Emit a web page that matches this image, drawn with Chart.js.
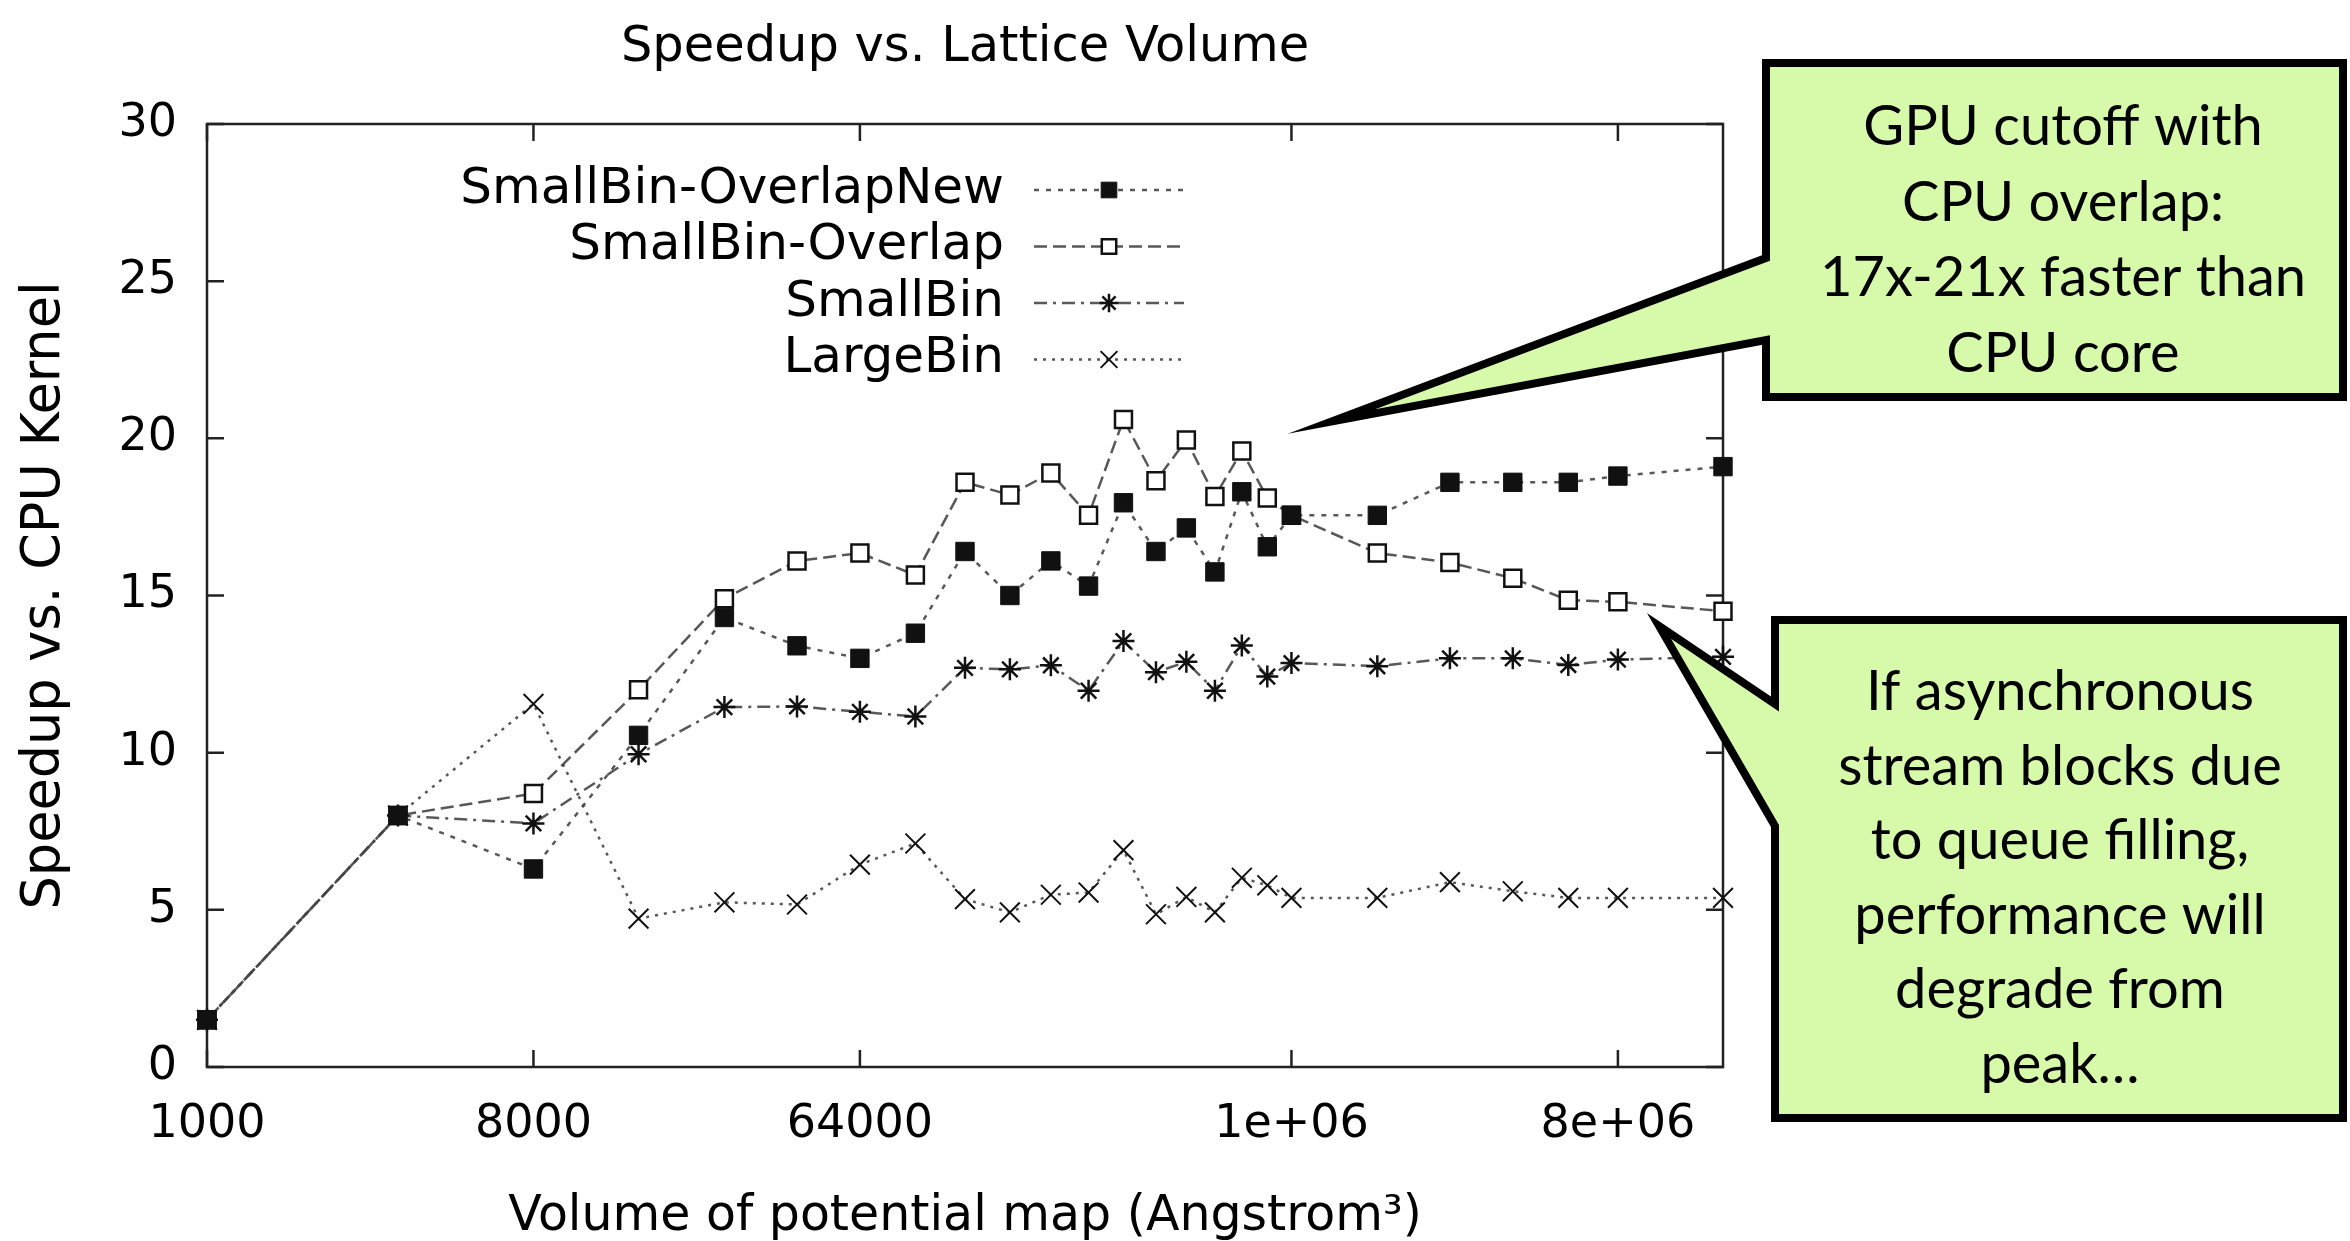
<!DOCTYPE html>
<html>
<head>
<meta charset="utf-8">
<title>Speedup vs. Lattice Volume</title>
<script src="https://cdn.jsdelivr.net/npm/chart.js@4.4.1/dist/chart.umd.min.js"></script>
<style>
  html, body { margin: 0; padding: 0; background: #fff; }
  #wrap { width: 2350px; height: 1241px; }
</style>
</head>
<body>
<div id="wrap"><canvas id="speedup-chart" width="2350" height="1241"></canvas></div>
<script>
// ===== データ =====
// 格子の体積（Angstrom^3）
const volumes = [
  1000, 3375, 8000, 15625, 27000, 42875, 64000, 91125, 125000, 166375,
  216000, 274625, 343000, 421875, 512000, 614125, 729000, 857375, 1000000,
  1728000, 2744000, 4096000, 5832000, 8000000, 15625000
];

const xTickValues = [1000, 8000, 64000, 1000000, 8000000];
const xTickLabels = ['1000', '8000', '64000', '1e+06', '8e+06'];
const yTickValues = [0, 5, 10, 15, 20, 25, 30];

const seriesNames = ['SmallBin-OverlapNew', 'SmallBin-Overlap', 'SmallBin', 'LargeBin'];

const smallBinOverlapNew = [
  1.5, 8.0, 6.3, 10.55, 14.3, 13.4, 13.0, 13.8, 16.4, 15.0,
  16.1, 15.3, 17.95, 16.4, 17.15, 15.75, 18.3, 16.55, 17.55,
  17.55, 18.6, 18.6, 18.6, 18.8, 19.1
];
const smallBinOverlap = [
  1.5, 8.0, 8.7, 12.0, 14.9, 16.1, 16.35, 15.65, 18.6, 18.2,
  18.9, 17.55, 20.6, 18.65, 19.95, 18.15, 19.6, 18.1, 17.55,
  16.35, 16.05, 15.55, 14.85, 14.8, 14.5
];
const smallBin = [
  1.5, 8.0, 7.75, 9.95, 11.45, 11.47, 11.3, 11.15, 12.7, 12.65,
  12.78, 11.97, 13.55, 12.56, 12.89, 11.97, 13.41, 12.42, 12.85,
  12.75, 13.0, 13.0, 12.79, 12.96, 13.05
];
const largeBin = [
  1.5, 8.0, 11.55, 4.72, 5.24, 5.17, 6.44, 7.11, 5.34, 4.92,
  5.48, 5.55, 6.9, 4.86, 5.41, 4.92, 6.02, 5.78, 5.38,
  5.38, 5.88, 5.59, 5.38, 5.38, 5.38
];

const callout1Lines = ['GPU cutoff with', 'CPU overlap:', '17x-21x faster than', 'CPU core'];
const callout2Lines = ['If asynchronous', 'stream blocks due', 'to queue filling,', 'performance will', 'degrade from', 'peak\u2026'];

// ===== 見た目 =====
const PLOT_FONT = 'DejaVu Sans';
const NOTE_FONT = 'Lato';
const LINE_COLOR = 'rgba(70, 70, 70, 0.9)';
const MARK_COLOR = '#111';

function toPoints(values) {
  return values.map(function(v, i) { return { x: volumes[i], y: v }; });
}

const datasets = [
  { label: seriesNames[0], data: toPoints(smallBinOverlapNew), borderDash: [5, 7],
    pointStyle: 'rect', pointRadius: 13, pointBackgroundColor: MARK_COLOR, pointBorderWidth: 1 },
  { label: seriesNames[1], data: toPoints(smallBinOverlap), borderDash: [13, 6],
    pointStyle: 'rect', pointRadius: 12, pointBackgroundColor: '#fff', pointBorderWidth: 2.5 },
  { label: seriesNames[2], data: toPoints(smallBin), borderDash: [13, 6, 3, 6],
    pointStyle: 'star', pointRadius: 11, pointBackgroundColor: MARK_COLOR, pointBorderWidth: 2.5 },
  { label: seriesNames[3], data: toPoints(largeBin), borderDash: [3, 6],
    pointStyle: 'crossRot', pointRadius: 14, pointBackgroundColor: MARK_COLOR, pointBorderWidth: 2 }
].map(function(ds) {
  return Object.assign({
    borderColor: LINE_COLOR,
    borderWidth: 2.5,
    pointBorderColor: MARK_COLOR,
    tension: 0,
    clip: false
  }, ds);
});

// -----------------------------------------------
// 白背景・枠線・内向きの目盛り（gnuplot 風）
// -----------------------------------------------
const frameTicks = {
  id: 'frameTicks',
  beforeDraw(chart) {
    const ctx = chart.ctx;
    ctx.save();
    ctx.fillStyle = '#fff';
    ctx.fillRect(0, 0, chart.width, chart.height);
    ctx.restore();
  },
  beforeDatasetsDraw(chart) {
    const { ctx, chartArea: a, scales } = chart;
    const len = 17;
    ctx.save();
    ctx.strokeStyle = '#222';
    ctx.lineWidth = 2.5;
    ctx.strokeRect(a.left, a.top, a.right - a.left, a.bottom - a.top);
    ctx.beginPath();
    xTickValues.forEach(function(v) {
      const x = scales.x.getPixelForValue(v);
      ctx.moveTo(x, a.bottom); ctx.lineTo(x, a.bottom - len);
      ctx.moveTo(x, a.top); ctx.lineTo(x, a.top + len);
    });
    yTickValues.forEach(function(v) {
      const y = scales.y.getPixelForValue(v);
      ctx.moveTo(a.left, y); ctx.lineTo(a.left + len, y);
      ctx.moveTo(a.right, y); ctx.lineTo(a.right - len, y);
    });
    ctx.stroke();
    ctx.restore();
  }
};

// -----------------------------------------------
// 凡例（右寄せの文字＋線見本）
// -----------------------------------------------
const gnuplotKey = {
  id: 'gnuplotKey',
  afterDatasetsDraw(chart) {
    const { ctx, chartArea: a } = chart;
    const textRight = a.left + 797;
    const lineFrom = a.left + 827;
    const lineTo = a.left + 977;
    ctx.save();
    chart.data.datasets.forEach(function(ds, i) {
      const y = a.top + 66 + i * 56.5;
      ctx.font = '50px "' + PLOT_FONT + '"';
      ctx.fillStyle = '#000';
      ctx.textAlign = 'right';
      ctx.textBaseline = 'middle';
      ctx.fillText(ds.label, textRight, y);

      ctx.strokeStyle = ds.borderColor;
      ctx.lineWidth = ds.borderWidth;
      ctx.setLineDash(ds.borderDash);
      ctx.beginPath();
      ctx.moveTo(lineFrom, y); ctx.lineTo(lineTo, y);
      ctx.stroke();

      ctx.setLineDash([]);
      ctx.fillStyle = ds.pointBackgroundColor;
      ctx.strokeStyle = ds.pointBorderColor;
      ctx.lineWidth = ds.pointBorderWidth;
      Chart.helpers.drawPoint(ctx, {
        pointStyle: ds.pointStyle, radius: ds.pointRadius * 0.85,
        rotation: 0, borderWidth: ds.pointBorderWidth
      }, (lineFrom + lineTo) / 2, y);
    });
    ctx.restore();
  }
};

// -----------------------------------------------
// 吹き出し（緑のボックス）
// tip は太い枠線の角が伸びる分だけ内側にずらしてある
// -----------------------------------------------
const callouts = [
  { box: [1766, 63, 2343, 397], base: [258, 340], tip: [1294000, 20.54],
    lines: callout1Lines, textX: 2063, firstY: 127, step: 75.5 },
  { box: [1775, 620, 2343, 1118], base: [704, 826], tip: [10400000, 14.03],
    lines: callout2Lines, textX: 2060, firstY: 692, step: 74.5 }
];

const calloutPlugin = {
  id: 'calloutPlugin',
  afterDraw(chart) {
    const { ctx, scales } = chart;
    ctx.save();
    callouts.forEach(function(c) {
      const [l, t, r, b] = c.box;
      const tx = scales.x.getPixelForValue(c.tip[0]);
      const ty = scales.y.getPixelForValue(c.tip[1]);
      ctx.beginPath();
      ctx.moveTo(l, t);
      ctx.lineTo(r, t);
      ctx.lineTo(r, b);
      ctx.lineTo(l, b);
      ctx.lineTo(l, c.base[1]);
      ctx.lineTo(tx, ty);
      ctx.lineTo(l, c.base[0]);
      ctx.closePath();
      ctx.fillStyle = '#d6faa9';
      ctx.fill();
      ctx.lineWidth = 8;
      ctx.lineJoin = 'miter';
      ctx.miterLimit = 20;
      ctx.strokeStyle = '#000';
      ctx.stroke();

      ctx.fillStyle = '#000';
      ctx.font = '56px "' + NOTE_FONT + '"';
      ctx.textAlign = 'center';
      ctx.textBaseline = 'middle';
      c.lines.forEach(function(line, i) {
        ctx.fillText(line, c.textX, c.firstY + i * c.step);
      });
    });
    ctx.restore();
  }
};

const tickFont = { family: PLOT_FONT, size: 46 };

const ctx = document.getElementById('speedup-chart').getContext('2d');
new Chart(ctx, {
  type: 'line',
  data: { datasets: datasets },
  plugins: [frameTicks, gnuplotKey, calloutPlugin],
  options: {
    responsive: false,
    animation: false,
    devicePixelRatio: 1,
    layout: { padding: { left: 0, top: 0, right: 627, bottom: 0 } },
    plugins: {
      legend: { display: false },
      tooltip: { enabled: false },
      title: {
        display: true,
        text: 'Speedup vs. Lattice Volume',
        color: '#000',
        fullSize: false,
        font: { family: PLOT_FONT, size: 49.5, weight: 'normal', lineHeight: 1.2 },
        padding: { top: 18, bottom: 46.6 }
      }
    },
    scales: {
      x: {
        type: 'logarithmic',
        min: 1000,
        max: 15625000,
        afterFit: function(s) { s.height = 174; },
        afterBuildTicks: function(s) {
          s.ticks = xTickValues.map(function(v) { return { value: v }; });
        },
        ticks: {
          autoSkip: false, maxRotation: 0, padding: 30, color: '#000', font: tickFont,
          callback: function(v) {
            const i = xTickValues.indexOf(Number(v));
            return i >= 0 ? xTickLabels[i] : '';
          }
        },
        grid: { display: false, drawTicks: false },
        border: { display: false },
        title: {
          display: true,
          text: 'Volume of potential map (Angstrom\u00b3)',
          color: '#000',
          font: { family: PLOT_FONT, size: 49, lineHeight: 0.95 },
          padding: { top: 0, bottom: 0 }
        }
      },
      y: {
        min: 0,
        max: 30,
        afterFit: function(s) { s.width = 207; },
        afterBuildTicks: function(s) {
          s.ticks = yTickValues.map(function(v) { return { value: v }; });
        },
        ticks: { padding: 30, color: '#000', font: tickFont },
        grid: { display: false, drawTicks: false },
        border: { display: false },
        title: {
          display: true,
          text: 'Speedup vs. CPU Kernel',
          color: '#000',
          font: { family: PLOT_FONT, size: 52.5, lineHeight: 1.2 },
          padding: { top: 14, bottom: 0 }
        }
      }
    }
  }
});
</script>
</body>
</html>
